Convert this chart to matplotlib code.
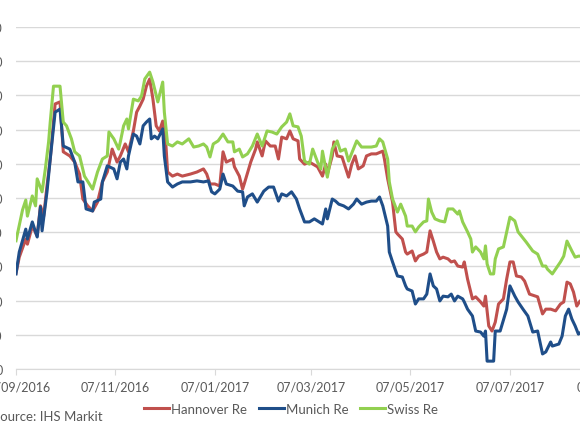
import numpy as np
import pandas as pd
from matplotlib import pyplot as plt

# values, x = days since 07/09/2016
start = pd.Timestamp('2016-09-07')

hannover_days = [0, 2, 6, 7, 10, 13, 15, 17, 19, 21, 24, 27, 29, 33, 36, 39, 41, 44, 47, 50,
                 53, 56, 59, 62, 64, 67, 69, 72, 74, 76, 78, 80, 82, 84, 86, 88, 90, 92, 93, 96,
                 99, 102, 107, 111, 115, 117, 119, 122, 125, 127, 129, 133, 134, 137, 139, 140, 144, 147, 148, 151,
                 153, 156, 159, 161, 163, 166, 168, 170, 173, 174, 177, 180, 185, 188, 190, 191, 194, 195, 197, 200,
                 204, 206, 208, 210, 213, 215, 218, 221, 225, 226, 228, 231, 233, 234, 237, 239, 240, 243, 245, 247,
                 250, 252, 254, 256, 258, 260, 262, 265, 267, 269, 271, 274, 275, 277, 280, 282, 285, 287, 288, 290,
                 292, 294, 296, 299, 301, 303, 305, 307, 310, 312, 315, 320, 323, 325, 328, 331, 334, 336, 338, 340,
                 342, 344, 346, 350]
hannover = [28.0, 32.7, 38.0, 36.5, 41.8, 38.9, 47.7, 44.7, 53.5, 61.4, 77.5, 78.1, 63.5, 62.3, 60.5, 57.0, 49.7, 47.7, 46.2, 48.8,
            54.7, 57.6, 64.3, 60.5, 62.3, 65.8, 63.5, 69.6, 75.1, 76.9, 78.9, 82.7, 84.8, 78.9, 71.1, 69.6, 72.5, 65.2, 57.6, 56.4,
            57.0, 56.4, 57.0, 57.6, 58.5, 57.0, 54.1, 54.1, 53.5, 63.5, 60.5, 61.4, 59.1, 56.4, 52.6, 54.1, 60.5, 64.3, 66.4, 62.3,
            66.7, 65.2, 65.2, 61.4, 67.8, 67.3, 69.6, 67.3, 66.7, 61.4, 59.9, 60.5, 59.1, 56.4, 59.9, 57.0, 62.3, 66.4, 62.3, 62.0,
            56.1, 59.9, 62.3, 58.5, 59.4, 62.3, 62.9, 62.9, 63.7, 61.4, 55.6, 48.8, 40.1, 39.5, 38.0, 34.2, 33.6, 34.5, 31.6, 33.0,
            33.6, 34.2, 40.4, 37.4, 34.2, 32.2, 32.7, 32.2, 31.3, 31.6, 30.1, 29.8, 31.3, 26.3, 20.5, 21.1, 19.6, 18.4, 21.3, 12.6,
            11.1, 13.7, 19.0, 20.5, 26.3, 31.3, 31.3, 27.2, 26.9, 25.7, 21.9, 21.1, 16.1, 17.5, 17.5, 17.0, 19.0, 19.6, 25.4, 24.9,
            22.5, 18.4, 19.9, 20.5]

munich_days = [0, 2, 6, 7, 10, 13, 15, 16, 19, 21, 24, 27, 29, 33, 36, 38, 41, 43, 47, 48,
               52, 53, 56, 60, 62, 64, 66, 68, 69, 72, 74, 76, 78, 80, 82, 83, 85, 87, 90, 91,
               93, 96, 99, 102, 107, 111, 115, 118, 120, 122, 125, 127, 129, 133, 136, 139, 140, 142, 145, 148,
               152, 155, 158, 161, 163, 166, 169, 172, 174, 177, 180, 183, 188, 190, 191, 194, 196, 198, 201, 204,
               207, 209, 212, 215, 218, 221, 223, 225, 228, 229, 231, 234, 237, 239, 240, 243, 245, 247, 250, 252,
               254, 256, 258, 260, 262, 265, 267, 269, 271, 274, 275, 277, 280, 282, 285, 287, 288, 289, 293, 294,
               297, 301, 303, 306, 308, 311, 314, 317, 320, 323, 325, 328, 329, 333, 335, 337, 339, 341, 343, 345,
               350]
munich = [27.8, 34.2, 40.9, 38.0, 43.0, 38.6, 47.4, 40.4, 51.8, 61.4, 75.1, 76.0, 65.2, 64.3, 60.5, 54.7, 54.7, 46.8, 46.2, 48.8,
          49.7, 54.7, 59.4, 58.5, 55.6, 60.5, 61.4, 58.5, 62.3, 68.7, 68.1, 65.8, 71.1, 72.2, 73.1, 67.3, 68.1, 67.3, 70.2, 62.3,
          54.7, 53.2, 54.1, 54.7, 54.7, 55.0, 54.7, 55.0, 51.8, 51.2, 52.6, 57.0, 54.1, 53.5, 52.0, 51.8, 47.7, 50.3, 51.2, 48.8,
          52.0, 53.2, 53.2, 49.1, 51.2, 50.6, 51.8, 49.7, 46.8, 43.0, 43.0, 43.9, 42.4, 46.8, 43.9, 49.7, 49.1, 48.2, 47.7, 46.8,
          48.2, 49.7, 48.2, 48.8, 49.1, 49.1, 50.3, 47.7, 41.8, 34.2, 31.3, 27.2, 26.9, 24.3, 23.4, 22.8, 19.0, 20.5, 20.5, 21.9,
          27.8, 24.3, 23.4, 19.9, 21.3, 21.1, 21.9, 19.9, 21.3, 20.5, 19.6, 17.5, 15.5, 11.1, 10.8, 9.6, 11.1, 2.3, 2.3, 11.1,
          11.1, 17.5, 24.3, 21.3, 19.6, 17.5, 15.5, 10.8, 11.1, 4.4, 5.0, 7.9, 6.7, 7.3, 9.6, 15.5, 17.5, 14.6, 12.6, 10.2,
          12.0]

swiss_days = [0, 4, 6, 7, 10, 12, 13, 16, 18, 20, 21, 23, 27, 29, 31, 34, 36, 39, 42, 47,
              50, 53, 56, 57, 60, 63, 64, 66, 68, 69, 72, 75, 77, 79, 82, 84, 87, 90, 91, 93,
              96, 99, 102, 106, 109, 112, 115, 117, 119, 121, 124, 127, 130, 133, 134, 137, 139, 142, 145, 148,
              151, 154, 157, 160, 163, 166, 168, 170, 173, 175, 177, 180, 182, 185, 187, 188, 191, 194, 197, 199,
              202, 204, 207, 209, 212, 215, 218, 221, 223, 225, 228, 229, 231, 234, 236, 239, 240, 243, 245, 247,
              250, 252, 253, 255, 257, 260, 263, 265, 268, 271, 272, 274, 277, 279, 280, 282, 285, 287, 288, 289,
              291, 293, 294, 296, 299, 301, 303, 306, 308, 310, 313, 317, 320, 323, 325, 326, 329, 331, 334, 336,
              338, 341, 343, 345, 350]
swiss = [37.5, 46.5, 49.4, 44.7, 50.6, 47.7, 55.6, 51.8, 58.5, 66.4, 72.2, 82.7, 82.7, 72.2, 71.1, 67.3, 63.5, 62.3, 56.4, 52.6,
         57.6, 61.4, 62.3, 69.3, 67.3, 64.3, 66.4, 71.1, 73.1, 70.2, 78.9, 78.4, 79.8, 84.8, 86.8, 83.9, 78.1, 83.9, 75.1, 65.8,
         65.2, 66.4, 65.8, 67.3, 64.9, 65.2, 65.8, 64.9, 62.0, 65.8, 66.7, 68.7, 66.4, 66.4, 63.5, 64.3, 62.0, 62.9, 65.2, 68.7,
         65.2, 69.6, 69.3, 68.7, 70.8, 72.2, 74.6, 71.1, 70.8, 68.1, 60.8, 59.9, 64.3, 60.5, 58.5, 63.7, 56.1, 64.3, 66.7, 63.7,
         64.3, 60.8, 64.3, 66.7, 64.9, 64.9, 64.9, 65.2, 67.3, 66.4, 61.4, 54.7, 49.7, 45.9, 48.2, 44.7, 41.8, 41.8, 40.1, 41.5,
         43.0, 43.3, 49.7, 45.9, 43.9, 43.3, 43.0, 46.8, 46.8, 45.3, 46.2, 43.0, 40.1, 38.0, 34.2, 35.7, 34.2, 32.2, 36.0, 30.7,
         27.8, 27.8, 32.2, 35.1, 35.7, 40.1, 44.4, 43.3, 40.1, 38.9, 37.1, 34.5, 33.6, 30.1, 30.1, 29.2, 27.8, 29.2, 31.3, 33.0,
         37.4, 34.5, 32.7, 33.0, 33.0]

tick_dates = ['2016-09-07', '2016-11-07', '2017-01-07', '2017-03-07',
              '2017-05-07', '2017-07-07', '2017-09-07']
y_ticks = [0, 10, 20, 30, 40, 50, 60, 70, 80, 90, 100]


def to_dates(days):
    return start + pd.to_timedelta(days, unit='D')


plt.rcParams['font.family'] = ['Lato', 'DejaVu Sans']
grey = '#595959'

fig = plt.figure(figsize=(5.8, 4.35), dpi=100)
# the source image is a crop, so the axes run past the figure edge
ax = fig.add_axes([16/580, 65/435, 595/580, 342/435])

ax.plot(to_dates(hannover_days), hannover, color='#c0504d', lw=2.2, label='Hannover Re')
ax.plot(to_dates(munich_days), munich, color='#1f4e89', lw=2.2, label='Munich Re')
ax.plot(to_dates(swiss_days), swiss, color='#92d050', lw=2.2, label='Swiss Re')

ax.set_xlim(start, start + pd.Timedelta(days=365))
ax.set_ylim(0, 100)
ax.set_yticks(y_ticks)
ax.set_yticklabels([str(v) for v in y_ticks])
ticks = pd.to_datetime(tick_dates)
ax.set_xticks(ticks)
ax.set_xticklabels([t.strftime('%d/%m/%Y') for t in ticks])

ax.grid(axis='y', color='#d9d9d9', lw=1)
ax.set_axisbelow(True)
for s in ['top', 'right', 'left']:
    ax.spines[s].set_visible(False)
ax.spines['bottom'].set_color('#d9d9d9')
ax.tick_params(axis='y', length=0, pad=9.5, labelsize=9, labelcolor=grey)
ax.tick_params(axis='x', length=4, color='#d9d9d9', pad=4, labelsize=9, labelcolor=grey)

fig.legend(loc='center', bbox_to_anchor=(0.502, 1 - 410/435), ncol=3, frameon=False,
           fontsize=9.5, handlelength=1.9, handletextpad=0.15, columnspacing=0.9,
           labelcolor=grey)
fig.text(-7/580, 1 - 417/435, 'Source: IHS Markit', fontsize=9.5, color=grey, va='center')

fig.savefig('out.png', dpi=100)
